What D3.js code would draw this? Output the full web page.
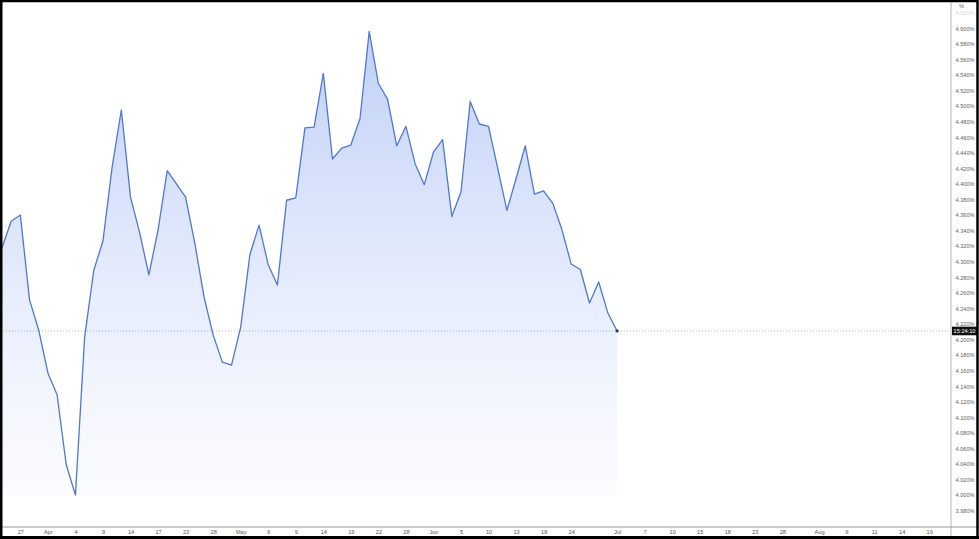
<!DOCTYPE html>
<meta charset="utf-8">
<style>
    body { margin: 0; background: #fff; }
    text { font-family: "Liberation Sans", Arial, sans-serif; }
</style>
<svg width="979" height="539"></svg>
<script src="https://cdnjs.cloudflare.com/ajax/libs/d3/7.8.5/d3.min.js"></script>
<script>
// trading days shown on the time axis (bond market days, 2025)
var days = [
    "Mar 25","Mar 26","Mar 27","Mar 28","Mar 31",
    "Apr 1","Apr 2","Apr 3","Apr 4","Apr 7","Apr 8","Apr 9","Apr 10","Apr 11",
    "Apr 14","Apr 15","Apr 16","Apr 17","Apr 21","Apr 22","Apr 23","Apr 24","Apr 25",
    "Apr 28","Apr 29","Apr 30",
    "May 1","May 2","May 5","May 6","May 7","May 8","May 9","May 12","May 13","May 14",
    "May 15","May 16","May 19","May 20","May 21","May 22","May 23","May 27","May 28",
    "May 29","May 30",
    "Jun 2","Jun 3","Jun 4","Jun 5","Jun 6","Jun 9","Jun 10","Jun 11","Jun 12","Jun 13",
    "Jun 16","Jun 17","Jun 18","Jun 20","Jun 23","Jun 24","Jun 25","Jun 26","Jun 27","Jun 30",
    "Jul 1","Jul 2","Jul 3","Jul 7","Jul 8","Jul 9","Jul 10","Jul 11","Jul 14","Jul 15",
    "Jul 16","Jul 17","Jul 18","Jul 21","Jul 22","Jul 23","Jul 24","Jul 25","Jul 28",
    "Jul 29","Jul 30","Jul 31",
    "Aug 1","Aug 4","Aug 5","Aug 6","Aug 7","Aug 8","Aug 11","Aug 12","Aug 13","Aug 14",
    "Aug 15","Aug 18","Aug 19"
];

// yield in %, one per trading day from Mar 25 to Jul 1
var yields = [
    4.318, 4.352, 4.360, 4.251, 4.212, 4.157, 4.129, 4.039, 4.000, 4.203,
    4.289, 4.327, 4.422, 4.495, 4.383, 4.337, 4.283, 4.341, 4.417, 4.400,
    4.383, 4.324, 4.255, 4.206, 4.171, 4.167, 4.216, 4.309, 4.347, 4.296,
    4.270, 4.379, 4.382, 4.472, 4.473, 4.542, 4.432, 4.446, 4.450, 4.484,
    4.596, 4.529, 4.509, 4.449, 4.474, 4.426, 4.399, 4.441, 4.457, 4.358,
    4.390, 4.506, 4.477, 4.474, 4.420, 4.366, 4.407, 4.449, 4.387, 4.391,
    4.375, 4.341, 4.297, 4.290, 4.247, 4.274, 4.234, 4.211
];

// time axis labels
var tickDays   = ["Mar 27","Apr 1","Apr 4","Apr 9","Apr 14","Apr 17","Apr 23","Apr 28","May 1","May 6",
                  "May 9","May 14","May 19","May 22","May 28","Jun 2","Jun 5","Jun 10","Jun 13","Jun 18",
                  "Jun 24","Jul 1","Jul 7","Jul 10","Jul 15","Jul 18","Jul 23","Jul 28","Aug 1","Aug 6",
                  "Aug 11","Aug 14","Aug 19"];
var tickLabels = ["27","Apr","4","9","14","17","23","28","May","6",
                  "9","14","19","22","28","Jun","5","10","13","18",
                  "24","Jul","7","10","15","18","23","28","Aug","6",
                  "11","14","19"];

// price axis ticks
var priceTicks = [3.98, 4.00, 4.02, 4.04, 4.06, 4.08, 4.10, 4.12, 4.14, 4.16, 4.18, 4.20,
                  4.22, 4.24, 4.26, 4.28, 4.30, 4.32, 4.34, 4.36, 4.38, 4.40, 4.42, 4.44,
                  4.46, 4.48, 4.50, 4.52, 4.54, 4.56, 4.58, 4.60, 4.62];
var countdown = "15:24:10";

var svg = d3.select("svg"),
    W = +svg.attr("width"),
    H = +svg.attr("height"),
    paneRight = 951,
    paneBottom = 527;

var data = yields.map(function (v, i) { return {day: days[i], value: v}; });

var x = d3.scalePoint()
    .domain(days)
    .range([2, 929.2]);

var y = d3.scaleLinear()
    .domain([3.98, 4.60])
    .range([510.7, 28.3]);

var defs = svg.append("defs");
var grad = defs.append("linearGradient")
    .attr("id", "fillGrad")
    .attr("x1", 0).attr("y1", 0).attr("x2", 0).attr("y2", 1);
grad.append("stop").attr("offset", "0%").attr("stop-color", "#bccdf6").attr("stop-opacity", 0.95);
grad.append("stop").attr("offset", "55%").attr("stop-color", "#dfe7fb").attr("stop-opacity", 0.8);
grad.append("stop").attr("offset", "100%").attr("stop-color", "#f6f8fe").attr("stop-opacity", 0.5);

defs.append("clipPath").attr("id", "pane")
    .append("rect").attr("x", 0).attr("y", 0).attr("width", paneRight).attr("height", paneBottom);

var pane = svg.append("g").attr("clip-path", "url(#pane)");

// area fill
pane.append("path")
    .datum(data)
    .attr("fill", "url(#fillGrad)")
    .attr("d", d3.area()
        .x(function (d) { return x(d.day); })
        .y0(y(4.00))
        .y1(function (d) { return y(d.value); }));

// last price line
var last = data[data.length - 1];
pane.append("line")
    .attr("x1", 0).attr("x2", paneRight)
    .attr("y1", y(last.value)).attr("y2", y(last.value))
    .attr("stroke", "#8f9ab8")
    .attr("stroke-width", 0.8)
    .attr("stroke-dasharray", "1,2");

// line
pane.append("path")
    .datum(data)
    .attr("fill", "none")
    .attr("stroke", "#4f78cf")
    .attr("stroke-width", 1.3)
    .attr("stroke-linejoin", "round")
    .attr("d", d3.line()
        .x(function (d) { return x(d.day); })
        .y(function (d) { return y(d.value); }));

pane.append("circle")
    .attr("cx", x(last.day)).attr("cy", y(last.value))
    .attr("r", 1.6)
    .attr("fill", "#2b3f7a");

// pane separators
svg.append("line")
    .attr("x1", paneRight).attr("x2", paneRight)
    .attr("y1", 0).attr("y2", H)
    .attr("stroke", "#b5b5b5").attr("stroke-width", 1);
svg.append("line")
    .attr("x1", 0).attr("x2", W)
    .attr("y1", paneBottom).attr("y2", paneBottom)
    .attr("stroke", "#9a9a9a").attr("stroke-width", 1);

// price axis
var yAxis = svg.append("g")
    .attr("transform", "translate(" + (paneRight + 14) + ",0)")
    .call(d3.axisRight(y)
        .tickValues(priceTicks)
        .tickSize(0)
        .tickPadding(0)
        .tickFormat(function (d) { return d3.format(".3f")(d) + "%"; }));
yAxis.select(".domain").remove();
yAxis.selectAll("text")
    .attr("text-anchor", "middle")
    .attr("font-size", 5.6)
    .attr("fill", "#5f5f5f");
yAxis.selectAll(".tick")
    .filter(function (d) { return d > 4.61; })
    .select("text").attr("fill", "#d5d5d5");

svg.append("text")
    .attr("x", paneRight + 8).attr("y", 8)
    .attr("font-size", 5.6)
    .attr("fill", "#666")
    .text("%");

// countdown label on the price axis
svg.append("rect")
    .attr("x", paneRight + 1).attr("y", y(last.value) - 4.3)
    .attr("width", 25).attr("height", 8.6)
    .attr("fill", "#111");
svg.append("text")
    .attr("x", paneRight + 13.5).attr("y", y(last.value) + 0.3)
    .attr("dominant-baseline", "middle")
    .attr("text-anchor", "middle")
    .attr("font-size", 5.6)
    .attr("fill", "#fff")
    .text(countdown);

// time axis
var xAxis = svg.append("g")
    .attr("transform", "translate(0," + paneBottom + ")")
    .call(d3.axisBottom(x)
        .tickValues(tickDays)
        .tickSize(0)
        .tickPadding(3)
        .tickFormat(function (d) { return tickLabels[tickDays.indexOf(d)]; }));
xAxis.select(".domain").remove();
xAxis.selectAll("text")
    .attr("font-size", 5.6)
    .attr("fill", "#555");

// outer frame
svg.append("rect")
    .attr("x", 1.25).attr("y", 1).attr("width", W - 2.75).attr("height", H - 2.5)
    .attr("fill", "none")
    .attr("stroke", "#000")
    .attr("stroke-width", 2.5);
svg.append("line")
    .attr("x1", 0).attr("x2", W).attr("y1", H - 1.5).attr("y2", H - 1.5)
    .attr("stroke", "#000").attr("stroke-width", 3);
</script>
